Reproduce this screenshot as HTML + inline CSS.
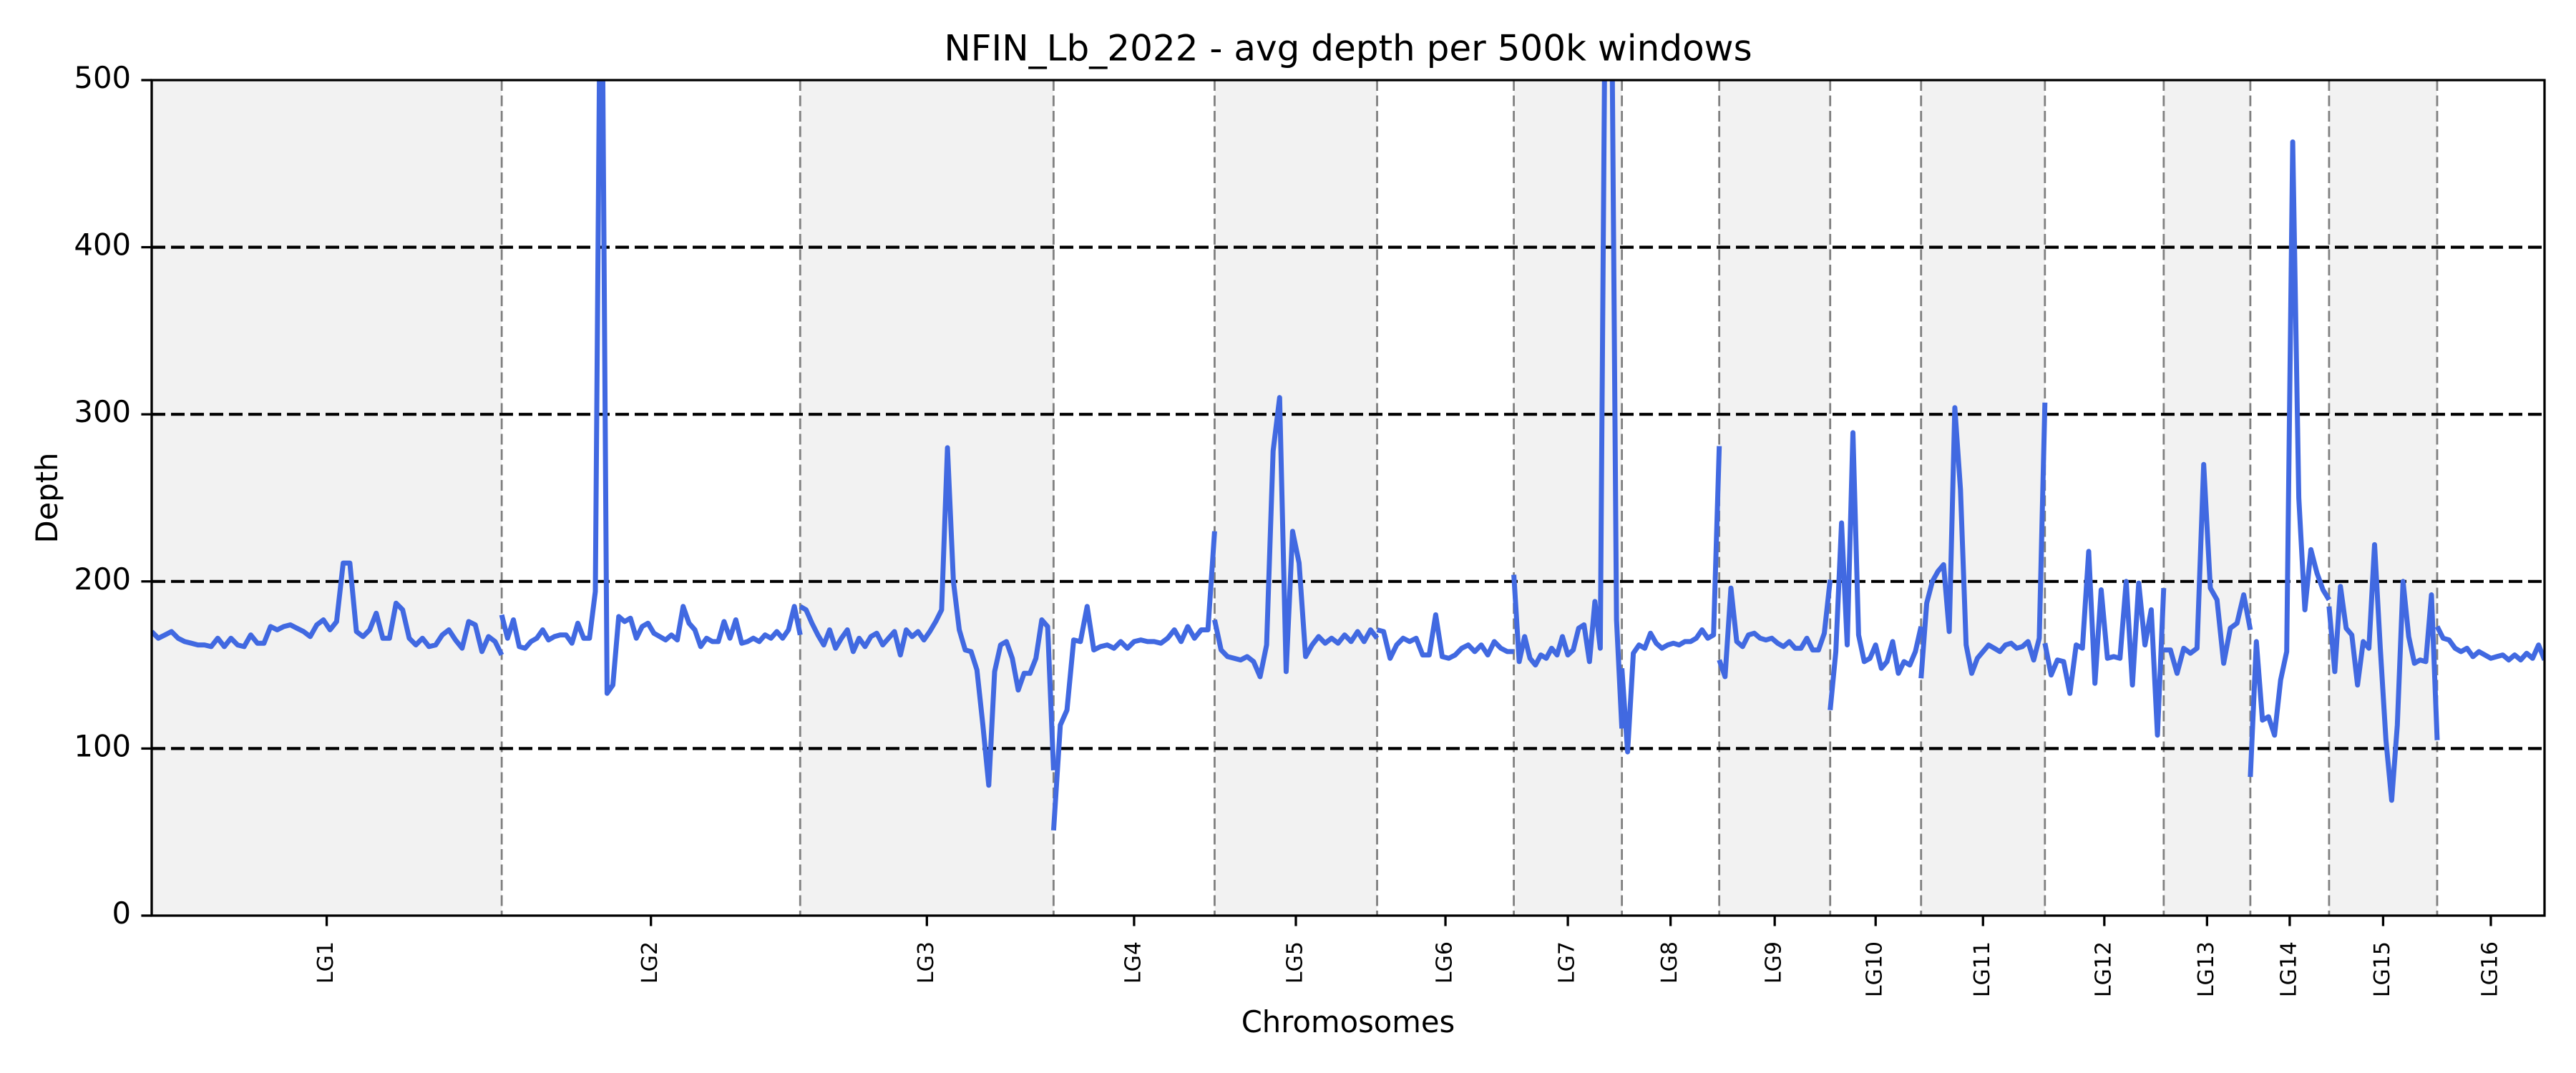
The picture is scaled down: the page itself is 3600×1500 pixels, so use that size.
<!DOCTYPE html>
<html><head><meta charset="utf-8"><style>
html,body{margin:0;padding:0;background:#fff;}
svg{display:block;font-family:"DejaVu Sans","Liberation Sans",sans-serif;}
</style></head><body>
<svg id="chart" width="3600" height="1500" viewBox="0 0 3600 1500" xmlns="http://www.w3.org/2000/svg">
<defs><clipPath id="plotclip"><rect x="212" y="112" width="3344" height="1168"/></clipPath></defs>
<rect x="0" y="0" width="3600" height="1500" fill="#fff"/>
<g id="bands"></g>
<g id="grid"></g>
<g id="series" clip-path="url(#plotclip)"></g>
<g id="axes"></g>
<text x="1884" y="71" font-size="50" text-anchor="middle" dominant-baseline="middle">NFIN_Lb_2022 - avg depth per 500k windows</text>
<text x="1884" y="1432" font-size="41.7" text-anchor="middle" dominant-baseline="middle">Chromosomes</text>
<text x="69" y="696" font-size="41.7" text-anchor="middle" dominant-baseline="middle" transform="rotate(-90 69 696)">Depth</text>
</svg>
<script>
const chromNames = ["LG1","LG2","LG3","LG4","LG5","LG6","LG7","LG8","LG9","LG10","LG11","LG12","LG13","LG14","LG15","LG16"];
const chromSizes = [489,417,354,225,227,191,151,136,155,127,173,166,121,110,151,150];
const yTicks = [0,100,200,300,400,500];
const gridValues = [100,200,300,400];
const lg1 = [170,166,168,170,166,164,163,162,162,161,166,161,166,162,161,168,163,163,173,171,173,174,172,170,167,174,177,171,176,211,211,170,167,171,181,166,166,187,183,166,162,166,161,162,168,171,165,160,176,174,158,167,164,156];
const lg2 = [180,166,177,161,160,164,166,171,165,167,168,168,163,175,166,166,194,640,133,138,179,176,178,166,173,175,169,167,165,168,165,185,175,171,161,166,164,164,176,166,177,163,164,166,164,168,166,170,166,171,185,168];
const lg3 = [185,183,175,168,162,171,160,166,171,158,166,161,167,169,162,166,170,156,171,167,170,165,170,176,183,280,200,171,159,158,147,114,78,146,162,164,154,135,145,145,154,177,173,87];
const lg4 = [51,114,123,165,164,185,159,161,162,160,164,160,164,165,164,164,163,166,171,164,173,166,171,171,230];
const lg5 = [177,159,155,154,153,155,152,143,162,278,310,146,230,211,155,162,167,163,166,163,168,164,170,164,171,166];
const lg6 = [171,170,154,162,166,164,166,156,156,180,155,154,156,160,162,158,162,156,164,160,158,158];
const lg7 = [204,152,167,154,150,156,154,160,156,167,156,159,172,174,152,188,160,600,600,177,112];
const lg8 = [148,98,157,162,160,169,163,160,162,163,162,164,164,166,171,166,168,281];
const lg9 = [153,143,196,164,161,168,169,166,165,166,163,161,164,160,160,166,159,159,169,201];
const lg10 = [123,158,235,162,289,168,152,154,162,148,152,164,145,152,150,158,173];
const lg11 = [142,187,200,206,210,170,304,255,162,145,154,158,162,160,158,162,163,160,161,164,153,166,307];
const lg12 = [163,144,153,152,133,162,160,218,139,195,154,155,154,200,138,199,162,183,108,196];
const lg13 = [159,159,145,160,157,160,270,196,189,151,172,175,192,171];
const lg14 = [83,164,117,119,108,141,158,463,250,183,219,205,195,189];
const lg15 = [185,146,197,172,168,138,164,160,222,160,105,69,114,200,167,151,153,152,192,105];
const lg16 = [173,166,165,160,158,160,155,158,156,154,155,156,153,156,153,157,154,162,153];
const depthSeries = [lg1,lg2,lg3,lg4,lg5,lg6,lg7,lg8,lg9,lg10,lg11,lg12,lg13,lg14,lg15,lg16];

const NS = "http://www.w3.org/2000/svg";
const L = 212, R = 3556, T = 112, B = 1280, YMAX = 500;
const total = chromSizes.reduce((a,b)=>a+b,0);
function xPos(pos){ return L + (R-L)*pos/total; }
function yPos(v){ return B - (B-T)*v/YMAX; }
function mk(tag, attrs, parent){ const e=document.createElementNS(NS,tag); for(const k in attrs) e.setAttribute(k,attrs[k]); parent.appendChild(e); return e; }

const bands = document.getElementById('bands');
const grid = document.getElementById('grid');
const series = document.getElementById('series');
const axes = document.getElementById('axes');

const starts = [];
let acc = 0;
chromSizes.forEach(s => { starts.push(acc); acc += s; });

chromNames.forEach((n,i) => {
  if (i % 2 === 0) {
    const r = mk('rect',{x:xPos(starts[i]),y:T,width:xPos(starts[i]+chromSizes[i])-xPos(starts[i]),height:B-T,fill:'#f2f2f2'},bands);
    
    
  }
});
chromNames.forEach((n,i) => {
  if (i === chromNames.length-1) return;
  const x = xPos(starts[i]+chromSizes[i]);
  const ln = mk('line',{x1:x,x2:x,y1:T,y2:B,stroke:'#808080','stroke-width':2.8,'stroke-dasharray':'15 6.5'},grid);
  
  
});
gridValues.forEach(v => {
  const ln = mk('line',{x1:L,x2:R,y1:yPos(v),y2:yPos(v),stroke:'#000','stroke-width':4.2,'stroke-dasharray':'19 8'},grid);
  
  
});

depthSeries.forEach((vals,i) => {
  const n = vals.length;
  const pts = vals.map((v,j) => xPos(starts[i] + chromSizes[i]*(n>1? j/(n-1):0.5)).toFixed(1) + ',' + yPos(v).toFixed(1)).join(' ');
  const pl = mk('polyline',{points:pts,fill:'none',stroke:'#4169E1','stroke-width':7,'stroke-linejoin':'round'},series);
  
  
});

const frame = mk('rect',{x:L,y:T,width:R-L,height:B-T,fill:'none',stroke:'#000','stroke-width':3.3},axes);



yTicks.forEach(v => {
  const y = yPos(v);
  const t = mk('line',{x1:L-14.6,x2:L,y1:y,y2:y,stroke:'#000','stroke-width':3.3},axes);
  
  
  const lb = mk('text',{x:L-29,y:y,'font-size':41.7,'text-anchor':'end','dominant-baseline':'middle'},axes);
  lb.textContent = String(v);
  
  
});

chromNames.forEach((n,i) => {
  const x = xPos(starts[i] + chromSizes[i]/2);
  const t = mk('line',{x1:x,x2:x,y1:B,y2:B+14.6,stroke:'#000','stroke-width':3.3},axes);
  
  
  const yy = B + 36;
  const lb = mk('text',{x:x,y:yy,'font-size':30,'text-anchor':'end','dominant-baseline':'middle',transform:'rotate(-90 '+x+' '+yy+')'},axes);
  lb.textContent = n;
  
  
});
</script>
</body></html>
